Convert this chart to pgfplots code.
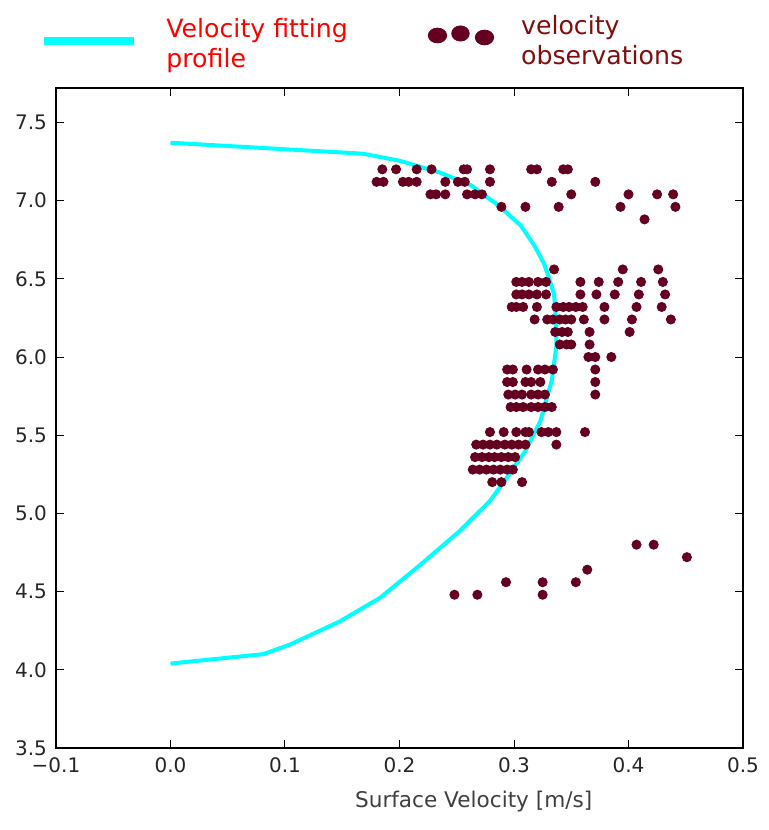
\documentclass[border=0pt]{standalone}
\usepackage{fontspec}
\setmainfont{DejaVu Sans}
\usepackage{pgfplots}
\pgfplotsset{compat=1.18}

\definecolor{obs}{RGB}{102,0,32}
\definecolor{obstext}{RGB}{128,14,14}
\definecolor{fitcyan}{RGB}{0,255,255}
\definecolor{labelgray}{RGB}{64,64,64}

\begin{document}
\begin{tikzpicture}
\begin{axis}[
  scale only axis,
  width=343.5pt, height=330pt,
  xmin=-0.1, xmax=0.5,
  ymin=3.5, ymax=7.72,
  xtick={-0.1,0,...,0.5},
  xticklabels={\char"2212 0.1,0.0,0.1,0.2,0.3,0.4,0.5},
  ytick={3.5,4,...,7.5},
  tick align=inside, tick pos=both,
  major tick length=4pt,
  tick style={black, line width=0.5pt},
  axis line style={black, line width=0.6pt},
  ticklabel style={font=\fontsize{10}{12}\selectfont, text=black!85,
    /pgf/number format/fixed, /pgf/number format/fixed zerofill,
    /pgf/number format/precision=1, /pgf/number format/assume math mode=true},
  yticklabel style={xshift=-1pt},
  xticklabel style={yshift=-1.5pt},
  xlabel={Surface Velocity [m/s]},
  xlabel style={font=\fontsize{10.8}{12}\selectfont, text=labelgray, at={(axis description cs:0.608,-0.055)}, anchor=north},
  legend columns=2,
  legend style={draw=none, fill=none, at={(axis description cs:-0.032,1.123)}, anchor=north west,
    font=\fontsize{12.6}{15.5}\selectfont, cells={anchor=west, align=left},
    /tikz/column 1/.style={column sep=12pt},
    /tikz/column 2/.style={column sep=38pt},
    /tikz/column 3/.style={column sep=11.5pt}},
]
\addplot[fitcyan, line width=2pt,
  legend image code/.code={\draw[fitcyan, line width=4pt] (0pt,1.5pt) -- (45pt,1.5pt);}]
  coordinates {
  (0,7.37) (0.168,7.30) (0.2,7.255) (0.235,7.18) (0.262,7.10) (0.288,6.96)
  (0.306,6.84) (0.318,6.71) (0.326,6.60) (0.330,6.52) (0.335,6.40) (0.336,6.30)
  (0.337,6.18) (0.337,6.07) (0.335,5.96) (0.333,5.85) (0.328,5.72) (0.323,5.59)
  (0.310,5.40) (0.292,5.21) (0.279,5.08) (0.253,4.89) (0.218,4.67) (0.183,4.46)
  (0.148,4.31) (0.104,4.16) (0.081,4.10) (0,4.04)};
\addlegendentry{\textcolor{red}{\shortstack[l]{Velocity fitting\\profile}}}
\addplot[only marks, mark=*, mark size=2.3pt, mark options={draw=obs, fill=obs},
  legend image code/.code={
    \fill[obs] (5pt,4.5pt) ellipse [x radius=4.6pt, y radius=3.7pt];
    \fill[obs] (16.5pt,5.5pt) ellipse [x radius=4.4pt, y radius=3.8pt];
    \fill[obs] (28.5pt,3.5pt) ellipse [x radius=4.6pt, y radius=3.7pt];}]
  table[row sep=\\] {
  x y\\
  0.185 7.20\\ 0.197 7.20\\ 0.215 7.20\\ 0.228 7.20\\ 0.256 7.20\\ 0.259 7.20\\ 0.279 7.20\\ 0.315 7.20\\ 0.320 7.20\\ 0.343 7.20\\ 0.347 7.20\\
  0.180 7.12\\ 0.186 7.12\\ 0.203 7.12\\ 0.208 7.12\\ 0.215 7.12\\ 0.240 7.12\\ 0.251 7.12\\ 0.257 7.12\\ 0.279 7.12\\ 0.333 7.12\\ 0.371 7.12\\
  0.227 7.04\\ 0.232 7.04\\ 0.240 7.04\\ 0.259 7.04\\ 0.266 7.04\\ 0.272 7.04\\ 0.350 7.04\\ 0.400 7.04\\ 0.425 7.04\\ 0.439 7.04\\
  0.289 6.96\\ 0.310 6.96\\ 0.339 6.96\\ 0.393 6.96\\ 0.441 6.96\\
  0.414 6.88\\
  0.335 6.56\\ 0.395 6.56\\ 0.426 6.56\\
  0.302 6.48\\ 0.307 6.48\\ 0.313 6.48\\ 0.321 6.48\\ 0.328 6.48\\ 0.358 6.48\\ 0.374 6.48\\ 0.391 6.48\\ 0.411 6.48\\ 0.430 6.48\\
  0.302 6.40\\ 0.307 6.40\\ 0.313 6.40\\ 0.320 6.40\\ 0.328 6.40\\ 0.358 6.40\\ 0.372 6.40\\ 0.388 6.40\\ 0.409 6.40\\ 0.432 6.40\\
  0.298 6.32\\ 0.302 6.32\\ 0.308 6.32\\ 0.320 6.32\\ 0.337 6.32\\ 0.343 6.32\\ 0.348 6.32\\ 0.354 6.32\\ 0.360 6.32\\ 0.379 6.32\\ 0.407 6.32\\ 0.429 6.32\\
  0.318 6.24\\ 0.329 6.24\\ 0.334 6.24\\ 0.340 6.24\\ 0.345 6.24\\ 0.350 6.24\\ 0.361 6.24\\ 0.379 6.24\\ 0.403 6.24\\ 0.437 6.24\\
  0.336 6.16\\ 0.342 6.16\\ 0.347 6.16\\ 0.366 6.16\\ 0.401 6.16\\
  0.340 6.08\\ 0.346 6.08\\ 0.350 6.08\\ 0.366 6.08\\
  0.365 6.00\\ 0.371 6.00\\ 0.385 6.00\\
  0.294 5.92\\ 0.299 5.92\\ 0.311 5.92\\ 0.321 5.92\\ 0.327 5.92\\ 0.334 5.92\\ 0.371 5.92\\
  0.294 5.84\\ 0.299 5.84\\ 0.310 5.84\\ 0.315 5.84\\ 0.323 5.84\\ 0.371 5.84\\
  0.295 5.76\\ 0.301 5.76\\ 0.307 5.76\\ 0.315 5.76\\ 0.321 5.76\\ 0.327 5.76\\ 0.371 5.76\\
  0.297 5.68\\ 0.302 5.68\\ 0.308 5.68\\ 0.315 5.68\\ 0.321 5.68\\ 0.327 5.68\\ 0.333 5.68\\
  0.279 5.52\\ 0.291 5.52\\ 0.302 5.52\\ 0.310 5.52\\ 0.313 5.52\\ 0.324 5.52\\ 0.330 5.52\\ 0.337 5.52\\ 0.362 5.52\\
  0.267 5.44\\ 0.273 5.44\\ 0.279 5.44\\ 0.285 5.44\\ 0.292 5.44\\ 0.298 5.44\\ 0.304 5.44\\ 0.310 5.44\\ 0.337 5.44\\
  0.266 5.36\\ 0.272 5.36\\ 0.278 5.36\\ 0.283 5.36\\ 0.289 5.36\\ 0.295 5.36\\ 0.301 5.36\\
  0.264 5.28\\ 0.270 5.28\\ 0.276 5.28\\ 0.282 5.28\\ 0.288 5.28\\ 0.294 5.28\\ 0.299 5.28\\
  0.281 5.20\\ 0.289 5.20\\ 0.307 5.20\\
  0.407 4.80\\ 0.422 4.80\\
  0.451 4.72\\
  0.364 4.64\\
  0.293 4.56\\ 0.325 4.56\\ 0.354 4.56\\
  0.248 4.48\\ 0.268 4.48\\ 0.325 4.48\\
  };
\addlegendentry{\raisebox{3pt}{\textcolor{obstext}{\shortstack[l]{velocity\\observations}}}}
\end{axis}
\pgfresetboundingbox
\path ([shift={(-28pt,-41pt)}]current axis.south west) rectangle ([shift={(13pt,44pt)}]current axis.north east);
\end{tikzpicture}
\end{document}
